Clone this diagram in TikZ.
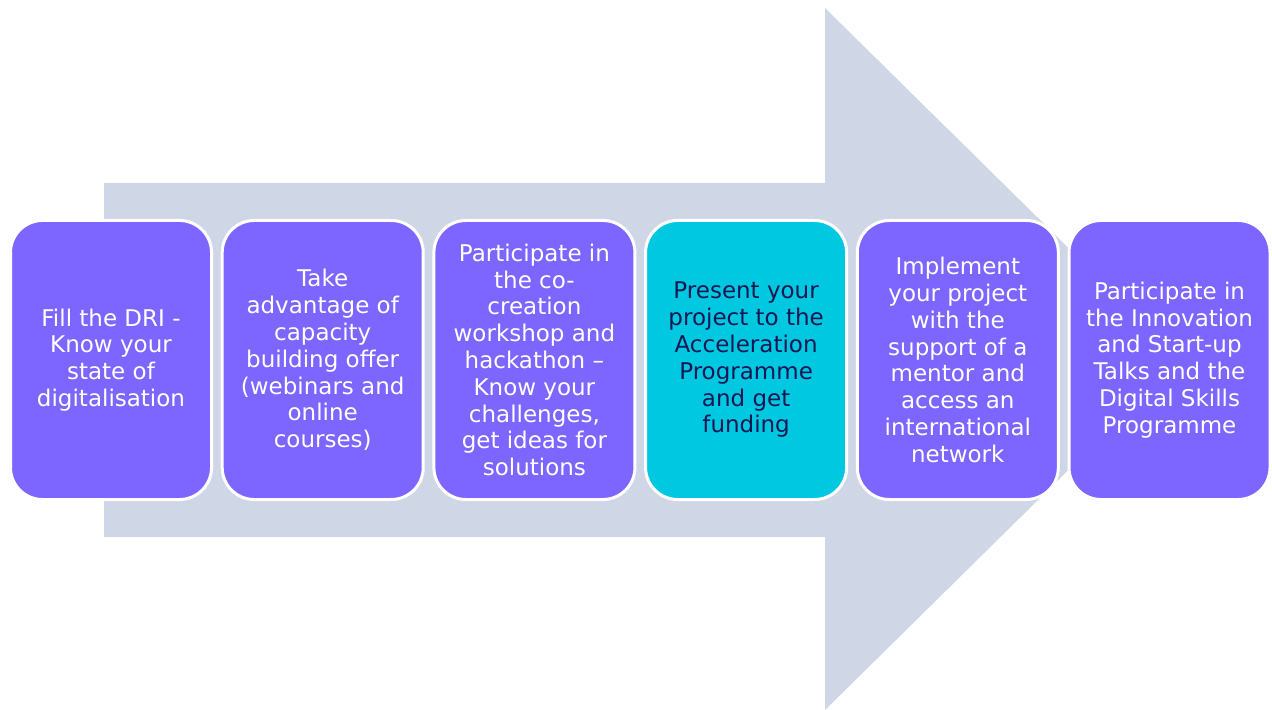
\documentclass[tikz,border=0pt]{standalone}
\usepackage{fontspec}
\setmainfont{DejaVu Sans}
\usetikzlibrary{positioning}
\definecolor{stepviolet}{RGB}{124,102,255}
\definecolor{stepcyan}{RGB}{0,200,224}
\definecolor{arrowgrey}{RGB}{207,214,230}
\definecolor{stepnavy}{RGB}{22,22,84}
\tikzstyle{every node}=[font=\fontsize{11.5pt}{13.4pt}\selectfont]
\tikzstyle{stepbox}=[draw=white, line width=1.5pt, rounded corners=16pt, fill=stepviolet, text=white,
  minimum width=100.5pt, minimum height=139.5pt, align=center, inner sep=2pt]

\begin{document}
\begin{tikzpicture}[x=0.5pt, y=-0.5pt, node distance=3.85pt]
    \useasboundingbox (0,0) rectangle (1272,710);
	% big arrow behind the steps
	\fill[arrowgrey] (104,183) -- (825,183) -- (825,8) -- (1181,359) -- (825,710) -- (825,537) -- (104,537) -- cycle;
	\node		[stepbox]		(S1) at (111,360)	{Fill the DRI -\\Know your\\state of\\digitalisation};
	\node		[stepbox]		(S2) [right=of S1]	{Take\\advantage of\\capacity\\building offer\\(webinars and\\online\\courses)};
	\node		[stepbox]		(S3) [right=of S2]	{Participate in\\the co-\\creation\\workshop and\\hackathon –\\Know your\\challenges,\\get ideas for\\solutions};
	\node		[stepbox, fill=stepcyan, text=stepnavy]	(S4) [right=of S3]	{Present your\\project to the\\Acceleration\\Programme\\and get\\funding};
	\node		[stepbox]		(S5) [right=of S4]	{Implement\\your project\\with the\\support of a\\mentor and\\access an\\international\\network};
	\node		[stepbox]		(S6) [right=of S5]	{Participate in\\the Innovation\\and Start-up\\Talks and the\\Digital Skills\\Programme};
	
\end{tikzpicture}
\end{document}
